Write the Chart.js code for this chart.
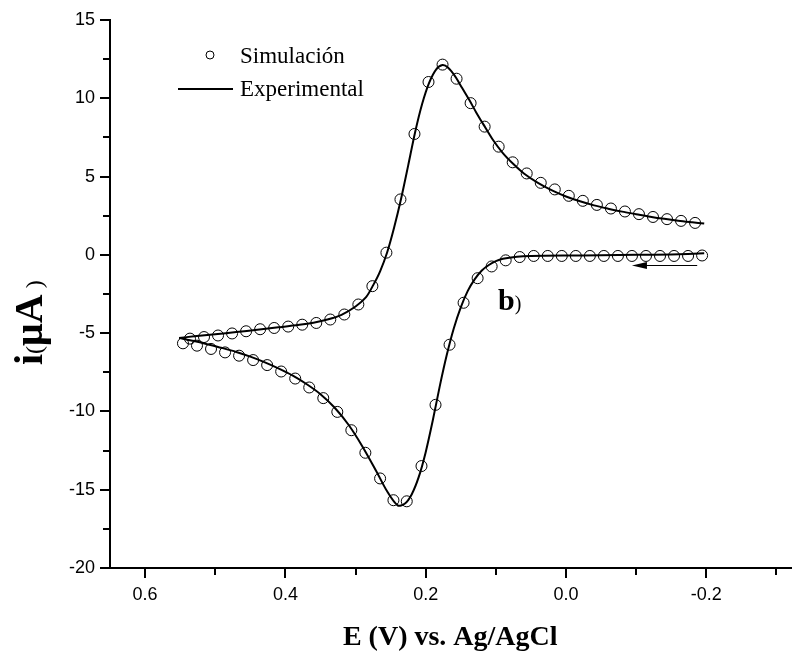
<!DOCTYPE html>
<html>
<head>
<meta charset="utf-8">
<script src="https://cdn.jsdelivr.net/npm/chart.js@4/dist/chart.umd.min.js"></script>
<style>
  html, body { margin: 0; padding: 0; background: #fff; }
  canvas { display: block; }
</style>
</head>
<body>
<canvas id="cv" width="797" height="659"></canvas>
<script>
// Simulación (círculos) - rama catódica, barrido desde -0.2 V
const simLowerE = [-0.194, -0.174, -0.154, -0.134, -0.114, -0.094, -0.074, -0.054, -0.034, -0.014,
  0.006, 0.026, 0.046, 0.066, 0.086, 0.106, 0.126, 0.146, 0.166, 0.186, 0.206, 0.227, 0.246,
  0.265, 0.286, 0.306, 0.326, 0.346, 0.366, 0.386, 0.406, 0.426, 0.446, 0.466, 0.486, 0.506, 0.526, 0.546];
const simLowerI = [-0.04, -0.07, -0.07, -0.07, -0.07, -0.07, -0.07, -0.07, -0.07, -0.07,
  -0.07, -0.07, -0.07, -0.14, -0.35, -0.74, -1.49, -3.06, -5.74, -9.58, -13.49, -15.74, -15.67,
  -14.28, -12.64, -11.2, -10.03, -9.15, -8.47, -7.9, -7.45, -7.04, -6.72, -6.44, -6.23, -6.01, -5.8, -5.65];

// Simulación - rama anódica (regreso)
const simUpperE = [0.536, 0.516, 0.496, 0.476, 0.456, 0.436, 0.416, 0.396, 0.376, 0.356, 0.336,
  0.316, 0.296, 0.276, 0.256, 0.236, 0.216, 0.196, 0.176, 0.156, 0.136, 0.116, 0.096, 0.076,
  0.056, 0.036, 0.016, -0.004, -0.024, -0.044, -0.064, -0.084, -0.104, -0.124, -0.144, -0.164, -0.184];
const simUpperI = [-5.35, -5.25, -5.15, -5.02, -4.88, -4.75, -4.67, -4.58, -4.46, -4.35, -4.13,
  -3.81, -3.17, -2.0, 0.14, 3.54, 7.72, 11.04, 12.15, 11.25, 9.69, 8.19, 6.91, 5.91,
  5.2, 4.6, 4.18, 3.77, 3.45, 3.19, 2.96, 2.77, 2.6, 2.42, 2.28, 2.17, 2.04];

// Experimental (línea) - rama catódica
const expLowerE = [-0.197, -0.15, -0.1, -0.05, 0.0, 0.05, 0.07, 0.09, 0.10, 0.11, 0.12, 0.13, 0.14,
  0.15, 0.16, 0.17, 0.18, 0.19, 0.20, 0.21, 0.22, 0.23, 0.24, 0.255, 0.27, 0.29, 0.31, 0.33,
  0.35, 0.37, 0.39, 0.41, 0.43, 0.45, 0.47, 0.49, 0.51, 0.53, 0.5515];
const expLowerI = [0.1, 0.03, 0.0, -0.03, -0.04, -0.07, -0.12, -0.25, -0.4, -0.65, -1.0, -1.55, -2.3,
  -3.35, -4.7, -6.4, -8.4, -10.6, -12.6, -14.2, -15.3, -15.9, -16.0, -15.1, -13.85, -12.25, -10.85, -9.75,
  -8.9, -8.25, -7.7, -7.25, -6.85, -6.5, -6.2, -5.95, -5.72, -5.5, -5.31];

// Experimental - rama anódica
const expUpperE = [0.5515, 0.53, 0.50, 0.47, 0.44, 0.41, 0.38, 0.36, 0.34, 0.32, 0.30, 0.285, 0.275,
  0.265, 0.255, 0.245, 0.235, 0.225, 0.215, 0.205, 0.195, 0.185, 0.176, 0.168, 0.158, 0.148, 0.138,
  0.128, 0.118, 0.105, 0.09, 0.075, 0.06, 0.04, 0.02, 0.0, -0.02, -0.04, -0.06, -0.08, -0.10,
  -0.12, -0.14, -0.16, -0.18, -0.197];
const expUpperI = [-5.31, -5.2, -5.07, -4.93, -4.78, -4.63, -4.47, -4.33, -4.13, -3.83, -3.3, -2.7, -1.95,
  -1.05, 0.15, 1.75, 3.6, 5.7, 7.85, 9.65, 11.0, 11.85, 12.12, 11.95, 11.4, 10.65, 9.9,
  9.1, 8.35, 7.4, 6.5, 5.8, 5.2, 4.6, 4.12, 3.73, 3.42, 3.16, 2.95, 2.76, 2.6,
  2.44, 2.3, 2.18, 2.08, 2.0];

// ejes
const xTicks = [0.6, 0.4, 0.2, 0.0, -0.2];
const xMinorTicks = [0.5, 0.3, 0.1, -0.1, -0.3];
const yTicks = [15, 10, 5, 0, -5, -10, -15, -20];
const yMinorTicks = [12.5, 7.5, 2.5, -2.5, -7.5, -12.5, -17.5];

const toPoints = (xs, ys) => xs.map((x, k) => ({ x: x, y: ys[k] }));

const serif = "'Liberation Serif', 'Times New Roman', serif";
const sans = "'Liberation Sans', Arial, sans-serif";

// ticks menores (más cortos que los mayores)
const minorTicksPlugin = {
    id: 'minorTicks',
    afterDraw(chart) {
        const { ctx, chartArea, scales } = chart;
        ctx.save();
        ctx.strokeStyle = '#000';
        ctx.lineWidth = 2;
        ctx.beginPath();
        xMinorTicks.forEach(v => {
            const px = Math.round(scales.x.getPixelForValue(v));
            ctx.moveTo(px, chartArea.bottom);
            ctx.lineTo(px, chartArea.bottom + 7);
        });
        yMinorTicks.forEach(v => {
            const py = Math.round(scales.y.getPixelForValue(v));
            ctx.moveTo(chartArea.left, py);
            ctx.lineTo(chartArea.left - 7, py);
        });
        ctx.stroke();
        ctx.restore();
    }
};

// leyenda, etiqueta "b)", flecha de barrido y título del eje Y
const annotPlugin = {
    id: 'annot',
    afterDraw(chart) {
        const { ctx, scales } = chart;
        ctx.save();

        // leyenda
        ctx.strokeStyle = '#000';
        ctx.lineWidth = 1;
        ctx.beginPath();
        ctx.arc(210, 55, 4, 0, Math.PI * 2);
        ctx.stroke();
        ctx.lineWidth = 2;
        ctx.beginPath();
        ctx.moveTo(178, 89);
        ctx.lineTo(233, 89);
        ctx.stroke();
        ctx.fillStyle = '#000';
        ctx.font = '23px ' + serif;
        ctx.textBaseline = 'alphabetic';
        ctx.fillText(chart.data.datasets[0].label, 240, 63);
        ctx.fillText(chart.data.datasets[2].label, 240, 96);

        // b)
        const bx = scales.x.getPixelForValue(0.097);
        const by = scales.y.getPixelForValue(-3.5);
        ctx.font = 'bold 30px ' + serif;
        ctx.fillText('b', bx, by);
        const bw = ctx.measureText('b').width;
        ctx.font = '20px ' + serif;
        ctx.fillText(')', bx + bw, by);

        // flecha
        const ax0 = scales.x.getPixelForValue(-0.187);
        const ax1 = scales.x.getPixelForValue(-0.094);
        const ay = scales.y.getPixelForValue(-0.68);
        ctx.lineWidth = 1.2;
        ctx.beginPath();
        ctx.moveTo(ax0, ay);
        ctx.lineTo(ax1 + 10, ay);
        ctx.stroke();
        ctx.beginPath();
        ctx.moveTo(ax1, ay);
        ctx.lineTo(ax1 + 15, ay - 3.5);
        ctx.lineTo(ax1 + 15, ay + 3.5);
        ctx.closePath();
        ctx.fill();

        // título eje Y: i(μA )
        ctx.translate(42, 365);
        ctx.rotate(-Math.PI / 2);
        let pos = 0;
        const parts = [
            ['i', 'bold 40px '],
            ['(', '24px '],
            ['μA', 'bold 40px '],
            [' )', '24px ']
        ];
        parts.forEach(([txt, f]) => {
            ctx.font = f + serif;
            ctx.fillText(txt, pos, 0);
            pos += ctx.measureText(txt).width;
        });
        ctx.restore();
    }
};

new Chart(document.getElementById('cv'), {
    type: 'scatter',
    data: {
        datasets: [
            {
                label: 'Simulación',
                data: toPoints(simLowerE, simLowerI),
                showLine: false,
                pointRadius: 5.5,
                pointBorderWidth: 1,
                borderColor: '#000',
                backgroundColor: 'rgba(0,0,0,0)'
            },
            {
                label: 'Simulación',
                data: toPoints(simUpperE, simUpperI),
                showLine: false,
                pointRadius: 5.5,
                pointBorderWidth: 1,
                borderColor: '#000',
                backgroundColor: 'rgba(0,0,0,0)'
            },
            {
                label: 'Experimental',
                data: toPoints(expLowerE, expLowerI),
                showLine: true,
                pointRadius: 0,
                borderColor: '#000',
                borderWidth: 2,
                tension: 0.3
            },
            {
                label: 'Experimental',
                data: toPoints(expUpperE, expUpperI),
                showLine: true,
                pointRadius: 0,
                borderColor: '#000',
                borderWidth: 2,
                tension: 0.3
            }
        ]
    },
    options: {
        responsive: false,
        animation: false,
        layout: { padding: { top: 20, left: 0, right: 0, bottom: 0 } },
        plugins: {
            legend: { display: false },
            tooltip: { enabled: false }
        },
        scales: {
            x: {
                type: 'linear',
                reverse: true,
                min: -0.32,
                max: 0.65,
                afterBuildTicks: s => { s.ticks = xTicks.map(v => ({ value: v })); },
                afterFit: s => { s.height = 91; },
                ticks: {
                    color: '#000',
                    padding: 6,
                    font: { family: sans, size: 18 },
                    callback: v => v.toFixed(1)
                },
                grid: { drawOnChartArea: false, drawTicks: true, tickLength: 10, color: '#000', lineWidth: 2 },
                border: { display: true, color: '#000', width: 2 },
                title: {
                    display: true,
                    text: 'E (V) vs. Ag/AgCl',
                    color: '#000',
                    padding: { top: 0, bottom: 4 },
                    font: { family: serif, size: 28, weight: 'bold' }
                }
            },
            y: {
                type: 'linear',
                min: -20,
                max: 15,
                afterBuildTicks: s => { s.ticks = yTicks.map(v => ({ value: v })); },
                afterFit: s => { s.width = 110; },
                ticks: {
                    color: '#000',
                    padding: 5,
                    font: { family: sans, size: 18 },
                    callback: v => String(v)
                },
                grid: { drawOnChartArea: false, drawTicks: true, tickLength: 10, color: '#000', lineWidth: 2 },
                border: { display: true, color: '#000', width: 2 }
            }
        }
    },
    plugins: [minorTicksPlugin, annotPlugin]
});
</script>
</body>
</html>
